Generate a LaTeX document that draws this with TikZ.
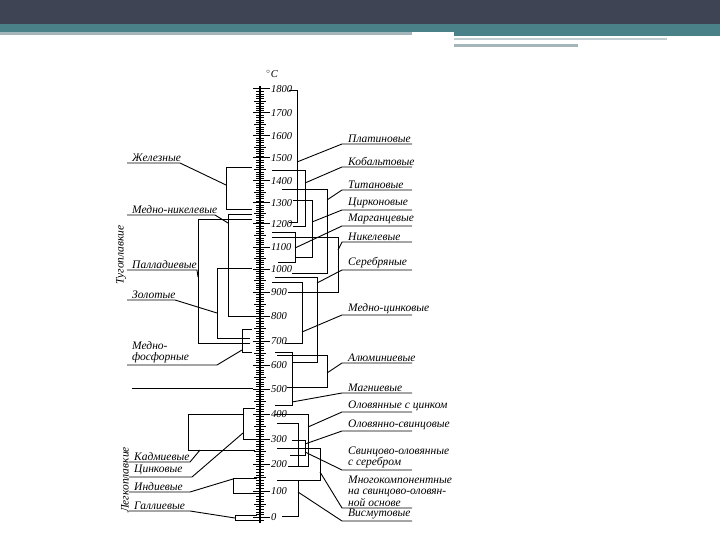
\documentclass[tikz,border=0pt]{standalone}
\usepackage{fontspec}
\setmainfont{Liberation Serif}
\usetikzlibrary{calc}

\definecolor{hdrdark}{RGB}{63,68,84}
\definecolor{hdrteal}{RGB}{74,128,136}
\definecolor{hdrgrey}{RGB}{165,182,186}

\tikzset{
  lab/.style={anchor=south west, inner ysep=1.5pt, align=left,
    font=\fontsize{11.5}{11.5}\selectfont\itshape},
  rlab/.style={lab, inner xsep=6pt},
  llab/.style={lab, inner xsep=5pt},
  brk/.style={line width=0.9pt},
  num/.style={anchor=west, inner sep=0pt, font=\fontsize{10.5}{10.5}\selectfont\itshape},
}

\begin{document}
\begin{tikzpicture}[x=1pt, y=-1pt, line cap=butt]
  \useasboundingbox (0,0) rectangle (720,540);
  % slide header
  \fill[hdrdark] (0,0) rectangle (720,24);
  \fill[hdrteal] (0,24) rectangle (720,32);
  \fill[hdrgrey] (0,32) rectangle (412,35);
  \fill[hdrteal] (454,32) rectangle (720,36);
  \fill[hdrgrey!70] (454,38) rectangle (667,40);
  \fill[hdrgrey] (454,44) rectangle (578,47);

  % temperature scale
  \draw[line width=2pt] (260,86) -- (260,523);
  \foreach \t/\ya/\yb in {0/517/491,100/491/464,200/464/439,300/439/414,400/414/389,
      500/389/365,600/365/341,700/341/316,800/316/292,900/292/269,1000/269/247,
      1100/247/224,1200/224/203,1300/203/181,1400/181/158,1500/158/136,1600/136/113,1700/113/89}{
    \draw[line width=1pt] (253,\ya) -- (270,\ya);
    \node[num] (n\t) at (271,\ya) {\t};
    \foreach \k in {1,...,9}{
      \pgfmathsetmacro\yk{\ya+(\yb-\ya)*\k/10}
      \ifnum\k=5 \draw[line width=0.8pt] (254,\yk) -- (266,\yk); \else \draw[line width=0.5pt] (256,\yk) -- (264,\yk); \fi
    }
  }
  \draw[line width=1pt] (253,89) -- (270,89);
  \node[num] (n1800) at (271,89) {1800};
  \draw[line width=0.5pt] (256,520) -- (264,520);
  \node[num, anchor=south west] (unit) at (266,78) {$^\circ$C};

  % left side brackets
  \draw[brk] (252,167) -| (226,209) -- (252,209);
  \draw[brk] (252,214) -| (228,316) -- (255,316);
  \draw[brk] (252,219) -| (198,343) -- (250,343);
  \draw[brk] (252,268) -| (217,338) -- (250,338);
  \draw[brk] (252,329) -| (242,352) -- (252,352);
  \draw[brk] (132,388) -- (253,388);
  \draw[brk] (243,414) -| (188,450) -- (255,450);
  \draw[brk] (255,408) -| (243,439) -- (255,439);
  \draw[brk] (257,478) -| (233,493) -- (257,493);
  \draw[brk] (257,515) -| (235,520) -- (257,520);

  % right side brackets
  \draw[brk] (289,90) -| (297,222) -- (289,222);
  \draw[brk] (272,170) -| (305,226) -- (293,226);
  \draw[brk] (282,189) -| (327,273) -- (292,273);
  \draw[brk] (293,200) -| (312,257) -- (295,257);
  \draw[brk] (272,232) -| (295,262) -- (278,262);
  \draw[brk] (272,237) -| (338,292) -- (288,292);
  \draw[brk] (275,277) -| (317,362) -- (292,362);
  \draw[brk] (272,282) -| (302,343) -- (285,343);
  \draw[brk] (277,355) -| (327,387) -- (287,387);
  \draw[brk] (275,352) -| (292,405) -- (275,405);
  \draw[brk] (275,414) -| (308,466) -- (297,466);
  \draw[brk] (277,423) -| (298,466) -- (288,466);
  \draw[brk] (292,440) -| (305,455) -- (290,455);
  \draw[brk] (277,448) -| (320,480) -- (280,480);
  \draw[brk] (277,480) -| (298,516) -- (282,516);

  % group names
  \node[font=\fontsize{11.5}{11.5}\selectfont\itshape, rotate=90] (refr) at (121,255) {Тугоплавкие};
  \node[font=\fontsize{11.5}{11.5}\selectfont\itshape, rotate=90] (fus) at (125,480) {Легкоплавкие};

  % left labels
  \coordinate (feA) at (226,185);
  \coordinate (cuniA) at (228,223);
  \coordinate (pdA) at (198,277);
  \coordinate (auA) at (217,313);
  \coordinate (cupA) at (242,350);
  \coordinate (cdA) at (200,450);
  \coordinate (znA) at (243,433);
  \coordinate (indA) at (233,479);
  \coordinate (gaA) at (235,518);
  \node[llab] (fe) at (127,163) {Железные};
  \node[llab] (cuni) at (127,215) {Медно-никелевые};
  \node[llab] (pd) at (127,270) {Палладиевые};
  \node[llab] (au) at (127,300) {Золотые};
  \node[llab] (cup) at (127,365) {Медно-\\фосфорные};
  \node[llab] (cd) at (129,462) {Кадмиевые};
  \node[llab] (zn) at (129,477) {Цинковые};
  \node[llab] (ind) at (129,492) {Индиевые};
  \node[llab] (ga) at (129,511) {Галлиевые};
  \draw[brk] (fe.south west) -- ++(53,0) -- (feA);
  \draw[brk] (cuni.south west) -- ++(88,0) -- (cuniA);
  \draw[brk] (pd.south west) -- ++(70,0) -- (pdA);
  \draw[brk] (au.south west) -- ++(48,0) -- (auA);
  \draw[brk] (cup.south west) -- ++(90,0) -- (cupA);
  \draw[brk] (cd.south west) -- ++(61,0) -- (cdA);
  \draw[brk] (zn.south west) -- ++(63,0) -- (znA);
  \draw[brk] (ind.south west) -- ++(61,0) -- (indA);
  \draw[brk] (ga.south west) -- ++(61,0) -- (gaA);

  % right labels
  \coordinate (ptA) at (297,162);
  \coordinate (coA) at (305,183);
  \coordinate (tiA) at (327,200);
  \coordinate (zrA) at (312,222);
  \coordinate (mnA) at (295,248);
  \coordinate (niA) at (338,250);
  \coordinate (agA) at (317,283);
  \coordinate (cuznA) at (302,332);
  \coordinate (alA) at (327,373);
  \coordinate (mgA) at (292,402);
  \coordinate (snznA) at (308,427);
  \coordinate (snpbA) at (305,444);
  \coordinate (pbagA) at (305,452);
  \coordinate (multiA) at (320,472);
  \coordinate (biA) at (298,492);
  \node[rlab] (pt) at (342,144) {Платиновые};
  \node[rlab] (co) at (342,167) {Кобальтовые};
  \node[rlab] (ti) at (342,190) {Титановые};
  \node[rlab] (zr) at (342,210) {Цирконовые};
  \node[rlab] (mn) at (342,226) {Марганцевые};
  \node[rlab] (ni) at (342,242) {Никелевые};
  \node[rlab] (ag) at (342,270) {Серебряные};
  \node[rlab] (cuzn) at (342,315) {Медно-цинковые};
  \node[rlab] (al) at (342,363) {Алюминиевые};
  \node[rlab] (mg) at (342,393) {Магниевые};
  \node[rlab] (snzn) at (342,412) {Оловянные с цинком};
  \node[rlab] (snpb) at (342,431) {Оловянно-свинцовые};
  \node[rlab] (pbag) at (342,470) {Свинцово-оловянные\\с серебром};
  \node[rlab] (multi) at (342,508) {Многокомпонентные\\на свинцово-оловян-\\ной основе};
  \node[rlab] (bi) at (342,521) {Висмутовые};
  \foreach \n in {pt,co,ti,zr,mn,ni,ag,cuzn,al,mg,snzn,snpb,pbag,multi,bi}
    \draw[brk] (\n A) -- (\n.south west) -- ++(70,0);
\end{tikzpicture}
\end{document}
